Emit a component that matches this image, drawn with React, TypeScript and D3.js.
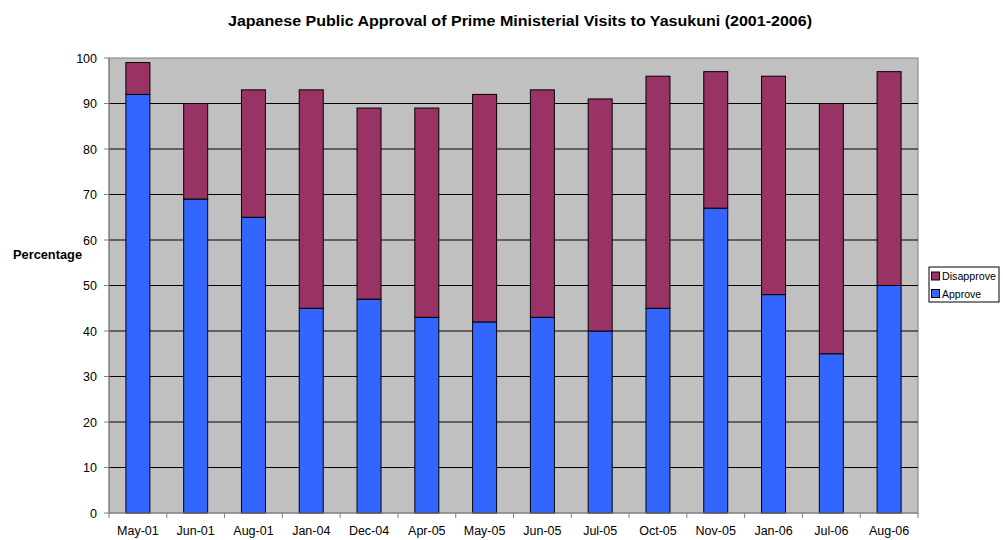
import React from "react";
import * as d3 from "d3";

const categories = ["May-01","Jun-01","Aug-01","Jan-04","Dec-04","Apr-05","May-05","Jun-05","Jul-05","Oct-05","Nov-05","Jan-06","Jul-06","Aug-06"];
const approve = [92,69,65,45,47,43,42,43,40,45,67,48,35,50];
const disapprove = [7,21,28,48,42,46,50,50,51,51,30,48,55,47];
const yTicks = [0,10,20,30,40,50,60,70,80,90,100];

const W = 1003, H = 540;
const L = 109, R = 918, T = 58, B = 513;
const font = "Arial, 'Liberation Sans', Helvetica, sans-serif";

export default function App() {
  const x = d3.scaleBand<string>().domain(categories).range([L, R]).paddingInner(0).paddingOuter(0);
  const y = d3.scaleLinear().domain([0, 100]).range([B, T]);
  const bw = x.bandwidth() * 0.415;
  const ts = { fontFamily: font };
  return (
    <svg width={W} height={H} style={{ position: "absolute", left: 0, top: 0 }}>
      <rect x={0} y={0} width={W} height={H} fill="#fff" />
      <text x={228} y={26} style={ts} fontWeight="bold" fontSize={14.5} textLength={584} lengthAdjust="spacingAndGlyphs">
        Japanese Public Approval of Prime Ministerial Visits to Yasukuni (2001-2006)
      </text>
      <rect x={L} y={T} width={R - L} height={B - T} fill="#C0C0C0" stroke="#808080" strokeWidth={1} />
      {yTicks.filter(t => t > 0 && t < 100).map(t => (
        <line key={t} x1={L} x2={R} y1={y(t)} y2={y(t)} stroke="#000" strokeWidth={1} />
      ))}
      {categories.map((c, i) => {
        const cx = (x(c) as number) + x.bandwidth() / 2;
        return (
          <g key={c}>
            <rect x={cx - bw / 2} y={y(approve[i])} width={bw} height={y(0) - y(approve[i])} fill="#3366FF" stroke="#000" strokeWidth={1} />
            <rect x={cx - bw / 2} y={y(approve[i] + disapprove[i])} width={bw} height={y(approve[i]) - y(approve[i] + disapprove[i])} fill="#993366" stroke="#000" strokeWidth={1} />
            <text x={cx} y={535} textAnchor="middle" style={ts} fontSize={12.5}>{c}</text>
          </g>
        );
      })}
      <line x1={L} x2={L} y1={T} y2={B} stroke="#808080" />
      <line x1={L} x2={R} y1={B} y2={B} stroke="#808080" />
      {yTicks.map(t => (
        <g key={t}>
          <line x1={L - 5} x2={L} y1={y(t)} y2={y(t)} stroke="#808080" />
          <text x={L - 12} y={y(t) + 4.5} textAnchor="end" style={ts} fontSize={12.5} fill="#000">{t}</text>
        </g>
      ))}
      {categories.concat(["end"]).map((c, i) => {
        const xx = L + i * x.bandwidth();
        return <line key={i} x1={xx} x2={xx} y1={B} y2={B + 5} stroke="#808080" />;
      })}
      <text x={13} y={259} style={ts} fontWeight="bold" fontSize={12} textLength={69} lengthAdjust="spacingAndGlyphs">Percentage</text>
      <rect x={929} y={267} width={70} height={35} fill="#fff" stroke="#000" />
      <rect x={931.5} y={272} width={8} height={8} fill="#993366" stroke="#000" />
      <text x={942} y={280} style={ts} fontSize={10.5} textLength={54} lengthAdjust="spacingAndGlyphs">Disapprove</text>
      <rect x={931.5} y={289.5} width={8} height={8} fill="#3366FF" stroke="#000" />
      <text x={942} y={297.5} style={ts} fontSize={10.5}>Approve</text>
    </svg>
  );
}
